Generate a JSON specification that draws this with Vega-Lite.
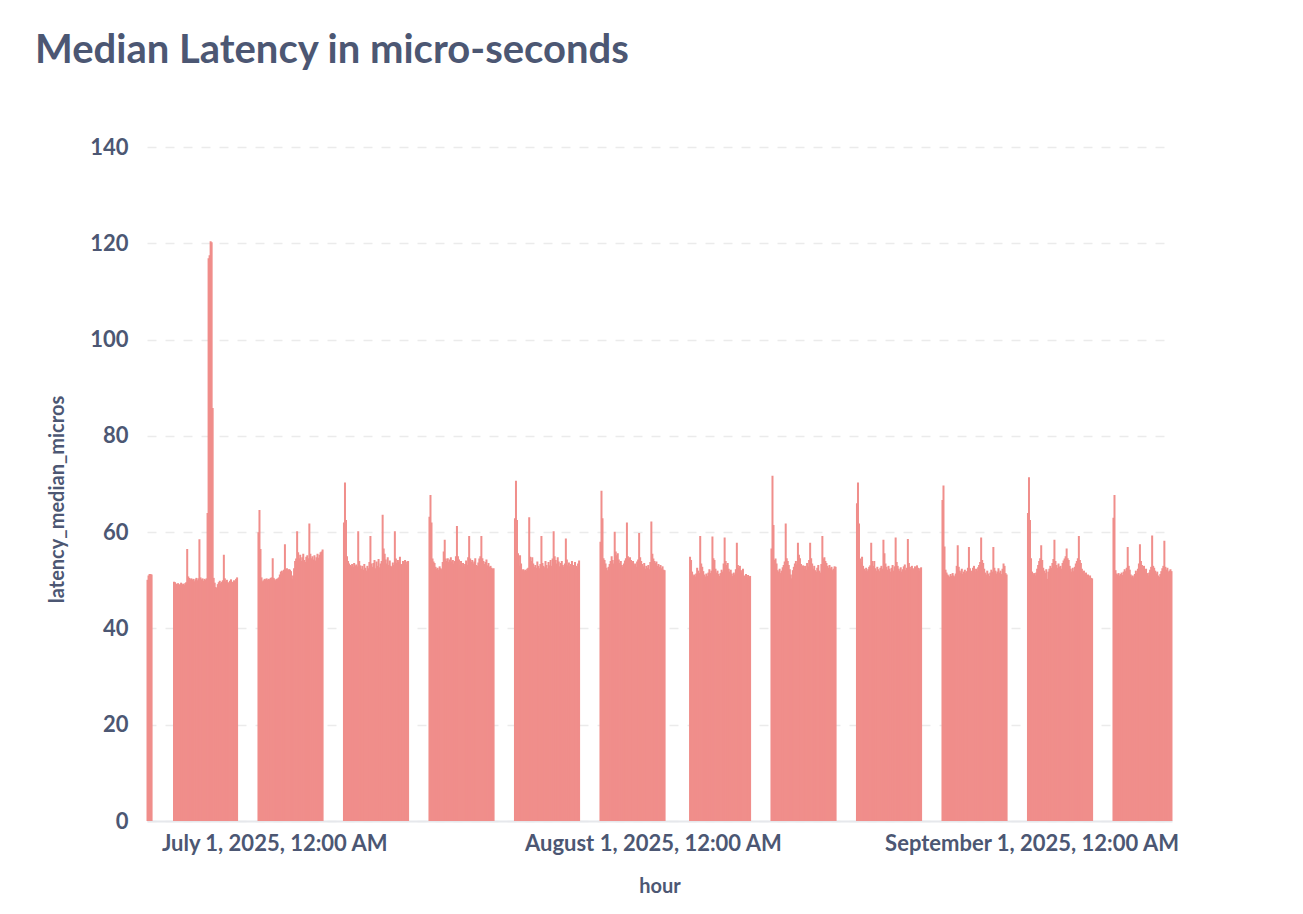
{"$schema":"https://vega.github.io/schema/vega-lite/v6.json","width":1025,"height":674,"autosize":{"type":"none"},"padding":{"left":147,"top":147,"right":131,"bottom":93},"background":"#ffffff",
"title":{"text":"Median Latency in micro-seconds","anchor":"start","frame":"group","font":"Lato","fontSize":40,"fontWeight":700,"color":"#4C5773","dx":-112,"offset":33,"baseline":"alphabetic"},
"data":{"values":[
{"t":"2025-06-20T15:00","v":50.1},{"t":"2025-06-20T17:00","v":51.0},{"t":"2025-06-20T19:00","v":51.3},{"t":"2025-06-20T21:00","v":51.3},{"t":"2025-06-20T23:00","v":51.2},
{"t":"2025-06-22T19:00","v":49.7},{"t":"2025-06-22T21:00","v":49.6},{"t":"2025-06-22T23:00","v":49.3},
{"t":"2025-06-23T01:00","v":49.1},{"t":"2025-06-23T03:00","v":49.4},{"t":"2025-06-23T05:00","v":49.0},{"t":"2025-06-23T07:00","v":49.2},{"t":"2025-06-23T09:00","v":49.5},{"t":"2025-06-23T11:00","v":49.1},{"t":"2025-06-23T13:00","v":49.3},{"t":"2025-06-23T15:00","v":49.0},{"t":"2025-06-23T17:00","v":49.4},{"t":"2025-06-23T19:00","v":49.6},{"t":"2025-06-23T21:00","v":56.5},{"t":"2025-06-23T23:00","v":50.8},
{"t":"2025-06-24T01:00","v":50.5},{"t":"2025-06-24T03:00","v":50.2},{"t":"2025-06-24T05:00","v":50.4},{"t":"2025-06-24T07:00","v":50.1},{"t":"2025-06-24T09:00","v":50.3},{"t":"2025-06-24T11:00","v":49.8},{"t":"2025-06-24T13:00","v":50.2},{"t":"2025-06-24T15:00","v":50.5},{"t":"2025-06-24T17:00","v":50.0},{"t":"2025-06-24T19:00","v":50.4},{"t":"2025-06-24T21:00","v":58.5},{"t":"2025-06-24T23:00","v":50.6},
{"t":"2025-06-25T01:00","v":50.2},{"t":"2025-06-25T03:00","v":50.4},{"t":"2025-06-25T05:00","v":49.9},{"t":"2025-06-25T07:00","v":50.3},{"t":"2025-06-25T09:00","v":50.1},{"t":"2025-06-25T11:00","v":50.4},{"t":"2025-06-25T13:00","v":64.0},{"t":"2025-06-25T15:00","v":116.9},{"t":"2025-06-25T17:00","v":117.5},{"t":"2025-06-25T19:00","v":120.4},{"t":"2025-06-25T21:00","v":120.2},{"t":"2025-06-25T23:00","v":85.8},
{"t":"2025-06-26T01:00","v":50.5},{"t":"2025-06-26T03:00","v":49.5},{"t":"2025-06-26T05:00","v":48.6},{"t":"2025-06-26T07:00","v":48.4},{"t":"2025-06-26T09:00","v":49.2},{"t":"2025-06-26T11:00","v":49.6},{"t":"2025-06-26T13:00","v":49.9},{"t":"2025-06-26T15:00","v":49.4},{"t":"2025-06-26T17:00","v":49.7},{"t":"2025-06-26T19:00","v":50.0},{"t":"2025-06-26T21:00","v":55.3},{"t":"2025-06-26T23:00","v":50.4},
{"t":"2025-06-27T01:00","v":49.8},{"t":"2025-06-27T03:00","v":50.1},{"t":"2025-06-27T05:00","v":49.6},{"t":"2025-06-27T07:00","v":49.4},{"t":"2025-06-27T09:00","v":49.9},{"t":"2025-06-27T11:00","v":50.2},{"t":"2025-06-27T13:00","v":49.7},{"t":"2025-06-27T15:00","v":49.5},{"t":"2025-06-27T17:00","v":50.0},{"t":"2025-06-27T19:00","v":49.8},{"t":"2025-06-27T21:00","v":50.3},{"t":"2025-06-27T23:00","v":50.6},
{"t":"2025-06-29T17:00","v":60.0},{"t":"2025-06-29T19:00","v":64.6},{"t":"2025-06-29T21:00","v":56.5},{"t":"2025-06-29T23:00","v":50.6},
{"t":"2025-06-30T01:00","v":49.8},{"t":"2025-06-30T03:00","v":50.0},{"t":"2025-06-30T05:00","v":50.3},{"t":"2025-06-30T07:00","v":50.2},{"t":"2025-06-30T09:00","v":50.4},{"t":"2025-06-30T11:00","v":50.1},{"t":"2025-06-30T13:00","v":50.3},{"t":"2025-06-30T15:00","v":50.2},{"t":"2025-06-30T17:00","v":50.5},{"t":"2025-06-30T19:00","v":50.6},{"t":"2025-06-30T21:00","v":54.6},{"t":"2025-06-30T23:00","v":50.5},
{"t":"2025-07-01T01:00","v":50.2},{"t":"2025-07-01T03:00","v":50.0},{"t":"2025-07-01T05:00","v":50.3},{"t":"2025-07-01T07:00","v":50.4},{"t":"2025-07-01T09:00","v":50.6},{"t":"2025-07-01T11:00","v":51.2},{"t":"2025-07-01T13:00","v":51.8},{"t":"2025-07-01T15:00","v":52.0},{"t":"2025-07-01T17:00","v":51.6},{"t":"2025-07-01T19:00","v":52.2},{"t":"2025-07-01T21:00","v":57.5},{"t":"2025-07-01T23:00","v":52.3},
{"t":"2025-07-02T01:00","v":52.5},{"t":"2025-07-02T03:00","v":52.0},{"t":"2025-07-02T05:00","v":52.3},{"t":"2025-07-02T07:00","v":52.2},{"t":"2025-07-02T09:00","v":51.9},{"t":"2025-07-02T11:00","v":50.3},{"t":"2025-07-02T13:00","v":51.0},{"t":"2025-07-02T15:00","v":52.5},{"t":"2025-07-02T17:00","v":54.0},{"t":"2025-07-02T19:00","v":54.5},{"t":"2025-07-02T21:00","v":60.2},{"t":"2025-07-02T23:00","v":55.8},
{"t":"2025-07-03T01:00","v":54.6},{"t":"2025-07-03T03:00","v":55.3},{"t":"2025-07-03T05:00","v":54.0},{"t":"2025-07-03T07:00","v":54.8},{"t":"2025-07-03T09:00","v":55.5},{"t":"2025-07-03T11:00","v":54.2},{"t":"2025-07-03T13:00","v":53.8},{"t":"2025-07-03T15:00","v":54.9},{"t":"2025-07-03T17:00","v":55.2},{"t":"2025-07-03T19:00","v":54.6},{"t":"2025-07-03T21:00","v":61.8},{"t":"2025-07-03T23:00","v":55.5},
{"t":"2025-07-04T01:00","v":54.6},{"t":"2025-07-04T03:00","v":55.0},{"t":"2025-07-04T05:00","v":54.3},{"t":"2025-07-04T07:00","v":55.2},{"t":"2025-07-04T09:00","v":54.1},{"t":"2025-07-04T11:00","v":54.8},{"t":"2025-07-04T13:00","v":55.5},{"t":"2025-07-04T15:00","v":54.7},{"t":"2025-07-04T17:00","v":55.3},{"t":"2025-07-04T19:00","v":55.8},{"t":"2025-07-04T21:00","v":56.0},{"t":"2025-07-04T23:00","v":56.4},
{"t":"2025-07-06T17:00","v":62.0},{"t":"2025-07-06T19:00","v":70.3},{"t":"2025-07-06T21:00","v":62.5},{"t":"2025-07-06T23:00","v":55.0},
{"t":"2025-07-07T01:00","v":54.0},{"t":"2025-07-07T03:00","v":53.5},{"t":"2025-07-07T05:00","v":53.2},{"t":"2025-07-07T07:00","v":52.9},{"t":"2025-07-07T09:00","v":53.4},{"t":"2025-07-07T11:00","v":52.8},{"t":"2025-07-07T13:00","v":53.6},{"t":"2025-07-07T15:00","v":53.0},{"t":"2025-07-07T17:00","v":53.3},{"t":"2025-07-07T19:00","v":52.9},{"t":"2025-07-07T21:00","v":60.2},{"t":"2025-07-07T23:00","v":54.0},
{"t":"2025-07-08T01:00","v":53.1},{"t":"2025-07-08T03:00","v":52.4},{"t":"2025-07-08T05:00","v":53.0},{"t":"2025-07-08T07:00","v":52.2},{"t":"2025-07-08T09:00","v":53.4},{"t":"2025-07-08T11:00","v":52.6},{"t":"2025-07-08T13:00","v":52.0},{"t":"2025-07-08T15:00","v":53.0},{"t":"2025-07-08T17:00","v":52.5},{"t":"2025-07-08T19:00","v":53.8},{"t":"2025-07-08T21:00","v":59.2},{"t":"2025-07-08T23:00","v":53.5},
{"t":"2025-07-09T01:00","v":52.8},{"t":"2025-07-09T03:00","v":53.6},{"t":"2025-07-09T05:00","v":54.2},{"t":"2025-07-09T07:00","v":52.5},{"t":"2025-07-09T09:00","v":53.9},{"t":"2025-07-09T11:00","v":53.0},{"t":"2025-07-09T13:00","v":54.4},{"t":"2025-07-09T15:00","v":52.7},{"t":"2025-07-09T17:00","v":53.5},{"t":"2025-07-09T19:00","v":54.0},{"t":"2025-07-09T21:00","v":63.6},{"t":"2025-07-09T23:00","v":56.6},
{"t":"2025-07-10T01:00","v":55.5},{"t":"2025-07-10T03:00","v":54.3},{"t":"2025-07-10T05:00","v":53.5},{"t":"2025-07-10T07:00","v":54.8},{"t":"2025-07-10T09:00","v":53.2},{"t":"2025-07-10T11:00","v":54.1},{"t":"2025-07-10T13:00","v":53.0},{"t":"2025-07-10T15:00","v":52.8},{"t":"2025-07-10T17:00","v":53.7},{"t":"2025-07-10T19:00","v":53.2},{"t":"2025-07-10T21:00","v":60.2},{"t":"2025-07-10T23:00","v":54.5},
{"t":"2025-07-11T01:00","v":53.6},{"t":"2025-07-11T03:00","v":54.2},{"t":"2025-07-11T05:00","v":53.8},{"t":"2025-07-11T07:00","v":54.9},{"t":"2025-07-11T09:00","v":53.4},{"t":"2025-07-11T11:00","v":53.1},{"t":"2025-07-11T13:00","v":54.0},{"t":"2025-07-11T15:00","v":53.5},{"t":"2025-07-11T17:00","v":54.2},{"t":"2025-07-11T19:00","v":53.3},{"t":"2025-07-11T21:00","v":53.9},{"t":"2025-07-11T23:00","v":54.0},
{"t":"2025-07-13T17:00","v":63.2},{"t":"2025-07-13T19:00","v":67.7},{"t":"2025-07-13T21:00","v":62.0},{"t":"2025-07-13T23:00","v":54.5},
{"t":"2025-07-14T01:00","v":53.9},{"t":"2025-07-14T03:00","v":53.6},{"t":"2025-07-14T05:00","v":52.8},{"t":"2025-07-14T07:00","v":52.4},{"t":"2025-07-14T09:00","v":52.6},{"t":"2025-07-14T11:00","v":52.2},{"t":"2025-07-14T13:00","v":52.9},{"t":"2025-07-14T15:00","v":52.5},{"t":"2025-07-14T17:00","v":52.3},{"t":"2025-07-14T19:00","v":53.8},{"t":"2025-07-14T21:00","v":56.0},{"t":"2025-07-14T23:00","v":58.4},
{"t":"2025-07-15T01:00","v":54.5},{"t":"2025-07-15T03:00","v":54.0},{"t":"2025-07-15T05:00","v":54.6},{"t":"2025-07-15T07:00","v":53.8},{"t":"2025-07-15T09:00","v":54.3},{"t":"2025-07-15T11:00","v":54.8},{"t":"2025-07-15T13:00","v":53.9},{"t":"2025-07-15T15:00","v":54.2},{"t":"2025-07-15T17:00","v":53.5},{"t":"2025-07-15T19:00","v":54.0},{"t":"2025-07-15T21:00","v":55.0},{"t":"2025-07-15T23:00","v":61.3},
{"t":"2025-07-16T01:00","v":55.0},{"t":"2025-07-16T03:00","v":54.3},{"t":"2025-07-16T05:00","v":53.2},{"t":"2025-07-16T07:00","v":54.0},{"t":"2025-07-16T09:00","v":52.8},{"t":"2025-07-16T11:00","v":53.6},{"t":"2025-07-16T13:00","v":52.9},{"t":"2025-07-16T15:00","v":53.4},{"t":"2025-07-16T17:00","v":54.1},{"t":"2025-07-16T19:00","v":53.2},{"t":"2025-07-16T21:00","v":54.8},{"t":"2025-07-16T23:00","v":59.2},
{"t":"2025-07-17T01:00","v":54.5},{"t":"2025-07-17T03:00","v":53.8},{"t":"2025-07-17T05:00","v":54.2},{"t":"2025-07-17T07:00","v":53.5},{"t":"2025-07-17T09:00","v":53.9},{"t":"2025-07-17T11:00","v":54.6},{"t":"2025-07-17T13:00","v":53.2},{"t":"2025-07-17T15:00","v":53.0},{"t":"2025-07-17T17:00","v":53.7},{"t":"2025-07-17T19:00","v":54.5},{"t":"2025-07-17T21:00","v":55.0},{"t":"2025-07-17T23:00","v":59.2},
{"t":"2025-07-18T01:00","v":54.6},{"t":"2025-07-18T03:00","v":54.0},{"t":"2025-07-18T05:00","v":53.4},{"t":"2025-07-18T07:00","v":53.8},{"t":"2025-07-18T09:00","v":54.3},{"t":"2025-07-18T11:00","v":53.1},{"t":"2025-07-18T13:00","v":53.6},{"t":"2025-07-18T15:00","v":52.8},{"t":"2025-07-18T17:00","v":53.0},{"t":"2025-07-18T19:00","v":52.6},{"t":"2025-07-18T21:00","v":52.4},{"t":"2025-07-18T23:00","v":52.5},
{"t":"2025-07-20T17:00","v":62.9},{"t":"2025-07-20T19:00","v":70.7},{"t":"2025-07-20T21:00","v":62.5},{"t":"2025-07-20T23:00","v":55.6},
{"t":"2025-07-21T01:00","v":53.0},{"t":"2025-07-21T03:00","v":55.2},{"t":"2025-07-21T05:00","v":53.5},{"t":"2025-07-21T07:00","v":52.1},{"t":"2025-07-21T09:00","v":52.3},{"t":"2025-07-21T11:00","v":51.9},{"t":"2025-07-21T13:00","v":52.2},{"t":"2025-07-21T15:00","v":52.0},{"t":"2025-07-21T17:00","v":52.4},{"t":"2025-07-21T19:00","v":52.6},{"t":"2025-07-21T21:00","v":63.1},{"t":"2025-07-21T23:00","v":54.9},
{"t":"2025-07-22T01:00","v":54.0},{"t":"2025-07-22T03:00","v":54.8},{"t":"2025-07-22T05:00","v":53.5},{"t":"2025-07-22T07:00","v":52.8},{"t":"2025-07-22T09:00","v":53.2},{"t":"2025-07-22T11:00","v":52.6},{"t":"2025-07-22T13:00","v":53.9},{"t":"2025-07-22T15:00","v":53.0},{"t":"2025-07-22T17:00","v":52.5},{"t":"2025-07-22T19:00","v":53.4},{"t":"2025-07-22T21:00","v":59.2},{"t":"2025-07-22T23:00","v":53.6},
{"t":"2025-07-23T01:00","v":53.0},{"t":"2025-07-23T03:00","v":52.7},{"t":"2025-07-23T05:00","v":54.0},{"t":"2025-07-23T07:00","v":53.2},{"t":"2025-07-23T09:00","v":52.5},{"t":"2025-07-23T11:00","v":53.8},{"t":"2025-07-23T13:00","v":53.1},{"t":"2025-07-23T15:00","v":54.2},{"t":"2025-07-23T17:00","v":53.0},{"t":"2025-07-23T19:00","v":54.5},{"t":"2025-07-23T21:00","v":60.2},{"t":"2025-07-23T23:00","v":55.0},
{"t":"2025-07-24T01:00","v":54.2},{"t":"2025-07-24T03:00","v":53.5},{"t":"2025-07-24T05:00","v":54.8},{"t":"2025-07-24T07:00","v":53.9},{"t":"2025-07-24T09:00","v":52.9},{"t":"2025-07-24T11:00","v":53.6},{"t":"2025-07-24T13:00","v":54.0},{"t":"2025-07-24T15:00","v":53.2},{"t":"2025-07-24T17:00","v":52.8},{"t":"2025-07-24T19:00","v":53.5},{"t":"2025-07-24T21:00","v":58.7},{"t":"2025-07-24T23:00","v":54.3},
{"t":"2025-07-25T01:00","v":53.1},{"t":"2025-07-25T03:00","v":53.7},{"t":"2025-07-25T05:00","v":52.9},{"t":"2025-07-25T07:00","v":53.4},{"t":"2025-07-25T09:00","v":54.0},{"t":"2025-07-25T11:00","v":53.2},{"t":"2025-07-25T13:00","v":52.6},{"t":"2025-07-25T15:00","v":53.8},{"t":"2025-07-25T17:00","v":53.0},{"t":"2025-07-25T19:00","v":52.7},{"t":"2025-07-25T21:00","v":53.5},{"t":"2025-07-25T23:00","v":54.1},
{"t":"2025-07-27T17:00","v":58.0},{"t":"2025-07-27T19:00","v":68.6},{"t":"2025-07-27T21:00","v":62.9},{"t":"2025-07-27T23:00","v":54.6},
{"t":"2025-07-28T01:00","v":54.2},{"t":"2025-07-28T03:00","v":53.5},{"t":"2025-07-28T05:00","v":52.6},{"t":"2025-07-28T07:00","v":52.1},{"t":"2025-07-28T09:00","v":52.8},{"t":"2025-07-28T11:00","v":53.4},{"t":"2025-07-28T13:00","v":54.0},{"t":"2025-07-28T15:00","v":55.0},{"t":"2025-07-28T17:00","v":54.2},{"t":"2025-07-28T19:00","v":53.5},{"t":"2025-07-28T21:00","v":60.1},{"t":"2025-07-28T23:00","v":56.0},
{"t":"2025-07-29T01:00","v":55.2},{"t":"2025-07-29T03:00","v":55.6},{"t":"2025-07-29T05:00","v":54.3},{"t":"2025-07-29T07:00","v":53.6},{"t":"2025-07-29T09:00","v":54.0},{"t":"2025-07-29T11:00","v":53.2},{"t":"2025-07-29T13:00","v":52.8},{"t":"2025-07-29T15:00","v":53.5},{"t":"2025-07-29T17:00","v":54.1},{"t":"2025-07-29T19:00","v":54.6},{"t":"2025-07-29T21:00","v":62.0},{"t":"2025-07-29T23:00","v":55.0},
{"t":"2025-07-30T01:00","v":54.4},{"t":"2025-07-30T03:00","v":54.8},{"t":"2025-07-30T05:00","v":54.2},{"t":"2025-07-30T07:00","v":53.6},{"t":"2025-07-30T09:00","v":54.0},{"t":"2025-07-30T11:00","v":53.1},{"t":"2025-07-30T13:00","v":53.5},{"t":"2025-07-30T15:00","v":52.8},{"t":"2025-07-30T17:00","v":53.9},{"t":"2025-07-30T19:00","v":54.3},{"t":"2025-07-30T21:00","v":59.8},{"t":"2025-07-30T23:00","v":54.8},
{"t":"2025-07-31T01:00","v":54.0},{"t":"2025-07-31T03:00","v":53.4},{"t":"2025-07-31T05:00","v":52.9},{"t":"2025-07-31T07:00","v":53.6},{"t":"2025-07-31T09:00","v":52.4},{"t":"2025-07-31T11:00","v":53.0},{"t":"2025-07-31T13:00","v":52.6},{"t":"2025-07-31T15:00","v":53.2},{"t":"2025-07-31T17:00","v":52.3},{"t":"2025-07-31T19:00","v":53.8},{"t":"2025-07-31T21:00","v":62.2},{"t":"2025-07-31T23:00","v":55.5},
{"t":"2025-08-01T01:00","v":54.5},{"t":"2025-08-01T03:00","v":54.0},{"t":"2025-08-01T05:00","v":53.6},{"t":"2025-08-01T07:00","v":53.9},{"t":"2025-08-01T09:00","v":53.0},{"t":"2025-08-01T11:00","v":53.4},{"t":"2025-08-01T13:00","v":52.8},{"t":"2025-08-01T15:00","v":53.2},{"t":"2025-08-01T17:00","v":52.5},{"t":"2025-08-01T19:00","v":52.9},{"t":"2025-08-01T21:00","v":52.2},{"t":"2025-08-01T23:00","v":52.1},
{"t":"2025-08-04T01:00","v":54.9},{"t":"2025-08-04T03:00","v":54.2},{"t":"2025-08-04T05:00","v":51.8},{"t":"2025-08-04T07:00","v":50.9},{"t":"2025-08-04T09:00","v":51.2},{"t":"2025-08-04T11:00","v":50.8},{"t":"2025-08-04T13:00","v":51.4},{"t":"2025-08-04T15:00","v":52.6},{"t":"2025-08-04T17:00","v":52.0},{"t":"2025-08-04T19:00","v":51.5},{"t":"2025-08-04T21:00","v":59.2},{"t":"2025-08-04T23:00","v":53.5},
{"t":"2025-08-05T01:00","v":52.8},{"t":"2025-08-05T03:00","v":51.9},{"t":"2025-08-05T05:00","v":51.2},{"t":"2025-08-05T07:00","v":50.8},{"t":"2025-08-05T09:00","v":51.4},{"t":"2025-08-05T11:00","v":50.9},{"t":"2025-08-05T13:00","v":51.6},{"t":"2025-08-05T15:00","v":52.3},{"t":"2025-08-05T17:00","v":51.5},{"t":"2025-08-05T19:00","v":52.0},{"t":"2025-08-05T21:00","v":59.1},{"t":"2025-08-05T23:00","v":54.6},
{"t":"2025-08-06T01:00","v":54.2},{"t":"2025-08-06T03:00","v":52.4},{"t":"2025-08-06T05:00","v":51.6},{"t":"2025-08-06T07:00","v":52.0},{"t":"2025-08-06T09:00","v":51.3},{"t":"2025-08-06T11:00","v":50.9},{"t":"2025-08-06T13:00","v":51.5},{"t":"2025-08-06T15:00","v":52.2},{"t":"2025-08-06T17:00","v":51.8},{"t":"2025-08-06T19:00","v":53.5},{"t":"2025-08-06T21:00","v":58.9},{"t":"2025-08-06T23:00","v":54.0},
{"t":"2025-08-07T01:00","v":53.2},{"t":"2025-08-07T03:00","v":53.6},{"t":"2025-08-07T05:00","v":52.4},{"t":"2025-08-07T07:00","v":51.8},{"t":"2025-08-07T09:00","v":52.2},{"t":"2025-08-07T11:00","v":51.4},{"t":"2025-08-07T13:00","v":50.9},{"t":"2025-08-07T15:00","v":51.6},{"t":"2025-08-07T17:00","v":51.2},{"t":"2025-08-07T19:00","v":52.3},{"t":"2025-08-07T21:00","v":57.8},{"t":"2025-08-07T23:00","v":53.2},
{"t":"2025-08-08T01:00","v":52.6},{"t":"2025-08-08T03:00","v":53.0},{"t":"2025-08-08T05:00","v":52.1},{"t":"2025-08-08T07:00","v":51.6},{"t":"2025-08-08T09:00","v":52.4},{"t":"2025-08-08T11:00","v":51.0},{"t":"2025-08-08T13:00","v":50.8},{"t":"2025-08-08T15:00","v":51.3},{"t":"2025-08-08T17:00","v":50.6},{"t":"2025-08-08T19:00","v":51.1},{"t":"2025-08-08T21:00","v":50.7},{"t":"2025-08-08T23:00","v":50.9},
{"t":"2025-08-10T17:00","v":56.6},{"t":"2025-08-10T19:00","v":71.7},{"t":"2025-08-10T21:00","v":61.5},{"t":"2025-08-10T23:00","v":54.2},
{"t":"2025-08-11T01:00","v":54.5},{"t":"2025-08-11T03:00","v":53.5},{"t":"2025-08-11T05:00","v":52.1},{"t":"2025-08-11T07:00","v":51.8},{"t":"2025-08-11T09:00","v":52.4},{"t":"2025-08-11T11:00","v":51.5},{"t":"2025-08-11T13:00","v":52.0},{"t":"2025-08-11T15:00","v":52.7},{"t":"2025-08-11T17:00","v":53.2},{"t":"2025-08-11T19:00","v":53.9},{"t":"2025-08-11T21:00","v":61.8},{"t":"2025-08-11T23:00","v":54.6},
{"t":"2025-08-12T01:00","v":54.0},{"t":"2025-08-12T03:00","v":53.2},{"t":"2025-08-12T05:00","v":52.3},{"t":"2025-08-12T07:00","v":51.2},{"t":"2025-08-12T09:00","v":50.4},{"t":"2025-08-12T11:00","v":52.1},{"t":"2025-08-12T13:00","v":52.8},{"t":"2025-08-12T15:00","v":53.5},{"t":"2025-08-12T17:00","v":54.0},{"t":"2025-08-12T19:00","v":53.3},{"t":"2025-08-12T21:00","v":57.8},{"t":"2025-08-12T23:00","v":55.3},
{"t":"2025-08-13T01:00","v":54.6},{"t":"2025-08-13T03:00","v":53.4},{"t":"2025-08-13T05:00","v":52.6},{"t":"2025-08-13T07:00","v":53.1},{"t":"2025-08-13T09:00","v":52.4},{"t":"2025-08-13T11:00","v":53.0},{"t":"2025-08-13T13:00","v":52.2},{"t":"2025-08-13T15:00","v":53.6},{"t":"2025-08-13T17:00","v":52.9},{"t":"2025-08-13T19:00","v":54.2},{"t":"2025-08-13T21:00","v":57.8},{"t":"2025-08-13T23:00","v":54.6},
{"t":"2025-08-14T01:00","v":53.5},{"t":"2025-08-14T03:00","v":52.4},{"t":"2025-08-14T05:00","v":53.0},{"t":"2025-08-14T07:00","v":52.1},{"t":"2025-08-14T09:00","v":51.8},{"t":"2025-08-14T11:00","v":52.6},{"t":"2025-08-14T13:00","v":53.2},{"t":"2025-08-14T15:00","v":52.0},{"t":"2025-08-14T17:00","v":51.6},{"t":"2025-08-14T19:00","v":53.4},{"t":"2025-08-14T21:00","v":59.2},{"t":"2025-08-14T23:00","v":54.5},
{"t":"2025-08-15T01:00","v":54.8},{"t":"2025-08-15T03:00","v":54.0},{"t":"2025-08-15T05:00","v":53.6},{"t":"2025-08-15T07:00","v":53.0},{"t":"2025-08-15T09:00","v":52.6},{"t":"2025-08-15T11:00","v":53.2},{"t":"2025-08-15T13:00","v":52.5},{"t":"2025-08-15T15:00","v":52.8},{"t":"2025-08-15T17:00","v":52.1},{"t":"2025-08-15T19:00","v":52.4},{"t":"2025-08-15T21:00","v":52.9},{"t":"2025-08-15T23:00","v":52.8},
{"t":"2025-08-17T17:00","v":66.0},{"t":"2025-08-17T19:00","v":70.3},{"t":"2025-08-17T21:00","v":61.8},{"t":"2025-08-17T23:00","v":54.5},
{"t":"2025-08-18T01:00","v":53.8},{"t":"2025-08-18T03:00","v":54.9},{"t":"2025-08-18T05:00","v":53.0},{"t":"2025-08-18T07:00","v":52.4},{"t":"2025-08-18T09:00","v":52.0},{"t":"2025-08-18T11:00","v":52.6},{"t":"2025-08-18T13:00","v":51.9},{"t":"2025-08-18T15:00","v":52.3},{"t":"2025-08-18T17:00","v":52.8},{"t":"2025-08-18T19:00","v":53.1},{"t":"2025-08-18T21:00","v":57.8},{"t":"2025-08-18T23:00","v":54.0},
{"t":"2025-08-19T01:00","v":53.0},{"t":"2025-08-19T03:00","v":54.0},{"t":"2025-08-19T05:00","v":52.5},{"t":"2025-08-19T07:00","v":52.0},{"t":"2025-08-19T09:00","v":52.8},{"t":"2025-08-19T11:00","v":52.3},{"t":"2025-08-19T13:00","v":51.9},{"t":"2025-08-19T15:00","v":52.6},{"t":"2025-08-19T17:00","v":53.0},{"t":"2025-08-19T19:00","v":52.4},{"t":"2025-08-19T21:00","v":58.4},{"t":"2025-08-19T23:00","v":55.6},
{"t":"2025-08-20T01:00","v":53.5},{"t":"2025-08-20T03:00","v":52.8},{"t":"2025-08-20T05:00","v":52.2},{"t":"2025-08-20T07:00","v":53.0},{"t":"2025-08-20T09:00","v":52.4},{"t":"2025-08-20T11:00","v":51.8},{"t":"2025-08-20T13:00","v":52.6},{"t":"2025-08-20T15:00","v":53.2},{"t":"2025-08-20T17:00","v":52.0},{"t":"2025-08-20T19:00","v":52.9},{"t":"2025-08-20T21:00","v":58.9},{"t":"2025-08-20T23:00","v":53.8},
{"t":"2025-08-21T01:00","v":53.0},{"t":"2025-08-21T03:00","v":52.4},{"t":"2025-08-21T05:00","v":52.0},{"t":"2025-08-21T07:00","v":52.7},{"t":"2025-08-21T09:00","v":51.8},{"t":"2025-08-21T11:00","v":52.3},{"t":"2025-08-21T13:00","v":52.9},{"t":"2025-08-21T15:00","v":53.3},{"t":"2025-08-21T17:00","v":52.1},{"t":"2025-08-21T19:00","v":52.6},{"t":"2025-08-21T21:00","v":58.6},{"t":"2025-08-21T23:00","v":53.6},
{"t":"2025-08-22T01:00","v":52.8},{"t":"2025-08-22T03:00","v":52.3},{"t":"2025-08-22T05:00","v":53.0},{"t":"2025-08-22T07:00","v":52.5},{"t":"2025-08-22T09:00","v":52.2},{"t":"2025-08-22T11:00","v":52.9},{"t":"2025-08-22T13:00","v":52.4},{"t":"2025-08-22T15:00","v":53.1},{"t":"2025-08-22T17:00","v":52.6},{"t":"2025-08-22T19:00","v":52.0},{"t":"2025-08-22T21:00","v":52.5},{"t":"2025-08-22T23:00","v":52.7},
{"t":"2025-08-24T17:00","v":66.7},{"t":"2025-08-24T19:00","v":69.7},{"t":"2025-08-24T21:00","v":57.0},{"t":"2025-08-24T23:00","v":52.2},
{"t":"2025-08-25T01:00","v":51.6},{"t":"2025-08-25T03:00","v":51.2},{"t":"2025-08-25T05:00","v":51.0},{"t":"2025-08-25T07:00","v":50.7},{"t":"2025-08-25T09:00","v":51.3},{"t":"2025-08-25T11:00","v":50.9},{"t":"2025-08-25T13:00","v":51.5},{"t":"2025-08-25T15:00","v":51.0},{"t":"2025-08-25T17:00","v":50.8},{"t":"2025-08-25T19:00","v":51.4},{"t":"2025-08-25T21:00","v":53.0},{"t":"2025-08-25T23:00","v":57.3},
{"t":"2025-08-26T01:00","v":52.8},{"t":"2025-08-26T03:00","v":52.0},{"t":"2025-08-26T05:00","v":51.6},{"t":"2025-08-26T07:00","v":52.4},{"t":"2025-08-26T09:00","v":51.3},{"t":"2025-08-26T11:00","v":51.8},{"t":"2025-08-26T13:00","v":52.2},{"t":"2025-08-26T15:00","v":51.5},{"t":"2025-08-26T17:00","v":51.9},{"t":"2025-08-26T19:00","v":52.6},{"t":"2025-08-26T21:00","v":56.9},{"t":"2025-08-26T23:00","v":52.5},
{"t":"2025-08-27T01:00","v":52.0},{"t":"2025-08-27T03:00","v":51.4},{"t":"2025-08-27T05:00","v":52.6},{"t":"2025-08-27T07:00","v":53.0},{"t":"2025-08-27T09:00","v":51.8},{"t":"2025-08-27T11:00","v":52.4},{"t":"2025-08-27T13:00","v":52.0},{"t":"2025-08-27T15:00","v":52.7},{"t":"2025-08-27T17:00","v":53.2},{"t":"2025-08-27T19:00","v":53.8},{"t":"2025-08-27T21:00","v":58.9},{"t":"2025-08-27T23:00","v":54.2},
{"t":"2025-08-28T01:00","v":53.6},{"t":"2025-08-28T03:00","v":52.4},{"t":"2025-08-28T05:00","v":51.6},{"t":"2025-08-28T07:00","v":51.2},{"t":"2025-08-28T09:00","v":52.0},{"t":"2025-08-28T11:00","v":51.4},{"t":"2025-08-28T13:00","v":50.9},{"t":"2025-08-28T15:00","v":51.6},{"t":"2025-08-28T17:00","v":52.2},{"t":"2025-08-28T19:00","v":51.8},{"t":"2025-08-28T21:00","v":56.9},{"t":"2025-08-28T23:00","v":52.6},
{"t":"2025-08-29T01:00","v":52.0},{"t":"2025-08-29T03:00","v":51.4},{"t":"2025-08-29T05:00","v":51.8},{"t":"2025-08-29T07:00","v":52.5},{"t":"2025-08-29T09:00","v":51.6},{"t":"2025-08-29T11:00","v":52.0},{"t":"2025-08-29T13:00","v":51.3},{"t":"2025-08-29T15:00","v":52.4},{"t":"2025-08-29T17:00","v":53.5},{"t":"2025-08-29T19:00","v":53.0},{"t":"2025-08-29T21:00","v":51.5},{"t":"2025-08-29T23:00","v":51.2},
{"t":"2025-08-31T17:00","v":64.0},{"t":"2025-08-31T19:00","v":71.4},{"t":"2025-08-31T21:00","v":62.5},{"t":"2025-08-31T23:00","v":54.6},
{"t":"2025-09-01T01:00","v":51.8},{"t":"2025-09-01T03:00","v":51.2},{"t":"2025-09-01T05:00","v":51.5},{"t":"2025-09-01T07:00","v":51.0},{"t":"2025-09-01T09:00","v":51.6},{"t":"2025-09-01T11:00","v":52.4},{"t":"2025-09-01T13:00","v":53.2},{"t":"2025-09-01T15:00","v":54.0},{"t":"2025-09-01T17:00","v":54.6},{"t":"2025-09-01T19:00","v":57.3},{"t":"2025-09-01T21:00","v":54.2},{"t":"2025-09-01T23:00","v":52.6},
{"t":"2025-09-02T01:00","v":52.0},{"t":"2025-09-02T03:00","v":51.5},{"t":"2025-09-02T05:00","v":52.3},{"t":"2025-09-02T07:00","v":50.3},{"t":"2025-09-02T09:00","v":51.8},{"t":"2025-09-02T11:00","v":52.4},{"t":"2025-09-02T13:00","v":53.0},{"t":"2025-09-02T15:00","v":52.6},{"t":"2025-09-02T17:00","v":53.6},{"t":"2025-09-02T19:00","v":54.4},{"t":"2025-09-02T21:00","v":58.4},{"t":"2025-09-02T23:00","v":54.0},
{"t":"2025-09-03T01:00","v":53.2},{"t":"2025-09-03T03:00","v":52.6},{"t":"2025-09-03T05:00","v":53.5},{"t":"2025-09-03T07:00","v":52.8},{"t":"2025-09-03T09:00","v":53.0},{"t":"2025-09-03T11:00","v":52.4},{"t":"2025-09-03T13:00","v":53.6},{"t":"2025-09-03T15:00","v":54.1},{"t":"2025-09-03T17:00","v":54.5},{"t":"2025-09-03T19:00","v":55.0},{"t":"2025-09-03T21:00","v":56.6},{"t":"2025-09-03T23:00","v":54.6},
{"t":"2025-09-04T01:00","v":54.2},{"t":"2025-09-04T03:00","v":53.0},{"t":"2025-09-04T05:00","v":52.4},{"t":"2025-09-04T07:00","v":51.8},{"t":"2025-09-04T09:00","v":52.6},{"t":"2025-09-04T11:00","v":51.9},{"t":"2025-09-04T13:00","v":52.8},{"t":"2025-09-04T15:00","v":53.5},{"t":"2025-09-04T17:00","v":54.0},{"t":"2025-09-04T19:00","v":54.6},{"t":"2025-09-04T21:00","v":59.2},{"t":"2025-09-04T23:00","v":54.2},
{"t":"2025-09-05T01:00","v":53.6},{"t":"2025-09-05T03:00","v":52.4},{"t":"2025-09-05T05:00","v":51.8},{"t":"2025-09-05T07:00","v":52.0},{"t":"2025-09-05T09:00","v":51.3},{"t":"2025-09-05T11:00","v":51.6},{"t":"2025-09-05T13:00","v":50.9},{"t":"2025-09-05T15:00","v":51.2},{"t":"2025-09-05T17:00","v":50.6},{"t":"2025-09-05T19:00","v":51.0},{"t":"2025-09-05T21:00","v":50.5},{"t":"2025-09-05T23:00","v":50.4},
{"t":"2025-09-07T17:00","v":63.0},{"t":"2025-09-07T19:00","v":67.7},{"t":"2025-09-07T21:00","v":52.1},{"t":"2025-09-07T23:00","v":51.4},
{"t":"2025-09-08T01:00","v":51.2},{"t":"2025-09-08T03:00","v":51.5},{"t":"2025-09-08T05:00","v":51.0},{"t":"2025-09-08T07:00","v":51.3},{"t":"2025-09-08T09:00","v":51.6},{"t":"2025-09-08T11:00","v":51.1},{"t":"2025-09-08T13:00","v":51.8},{"t":"2025-09-08T15:00","v":52.3},{"t":"2025-09-08T17:00","v":51.9},{"t":"2025-09-08T19:00","v":52.6},{"t":"2025-09-08T21:00","v":56.9},{"t":"2025-09-08T23:00","v":53.0},
{"t":"2025-09-09T01:00","v":52.2},{"t":"2025-09-09T03:00","v":51.2},{"t":"2025-09-09T05:00","v":50.8},{"t":"2025-09-09T07:00","v":51.0},{"t":"2025-09-09T09:00","v":50.6},{"t":"2025-09-09T11:00","v":51.3},{"t":"2025-09-09T13:00","v":52.0},{"t":"2025-09-09T15:00","v":51.5},{"t":"2025-09-09T17:00","v":52.4},{"t":"2025-09-09T19:00","v":53.5},{"t":"2025-09-09T21:00","v":57.5},{"t":"2025-09-09T23:00","v":54.0},
{"t":"2025-09-10T01:00","v":53.2},{"t":"2025-09-10T03:00","v":52.5},{"t":"2025-09-10T05:00","v":53.0},{"t":"2025-09-10T07:00","v":51.8},{"t":"2025-09-10T09:00","v":52.4},{"t":"2025-09-10T11:00","v":51.5},{"t":"2025-09-10T13:00","v":51.0},{"t":"2025-09-10T15:00","v":51.6},{"t":"2025-09-10T17:00","v":52.2},{"t":"2025-09-10T19:00","v":52.8},{"t":"2025-09-10T21:00","v":59.3},{"t":"2025-09-10T23:00","v":53.0},
{"t":"2025-09-11T01:00","v":52.6},{"t":"2025-09-11T03:00","v":52.0},{"t":"2025-09-11T05:00","v":51.4},{"t":"2025-09-11T07:00","v":51.8},{"t":"2025-09-11T09:00","v":51.0},{"t":"2025-09-11T11:00","v":50.7},{"t":"2025-09-11T13:00","v":51.3},{"t":"2025-09-11T15:00","v":51.9},{"t":"2025-09-11T17:00","v":52.5},{"t":"2025-09-11T19:00","v":53.0},{"t":"2025-09-11T21:00","v":58.2},{"t":"2025-09-11T23:00","v":52.8},
{"t":"2025-09-12T01:00","v":52.2},{"t":"2025-09-12T03:00","v":52.6},{"t":"2025-09-12T05:00","v":51.8},{"t":"2025-09-12T07:00","v":52.0},{"t":"2025-09-12T09:00","v":52.3},{"t":"2025-09-12T11:00","v":51.9}
]},
"mark":{"type":"bar","color":"#F08E8B","width":2},
"encoding":{
"x":{"field":"t","type":"temporal","title":"hour","scale":{"domain":[{"year":2025,"month":"jun","date":20,"hours":14},{"year":2025,"month":"sep","date":12,"hours":12}],"padding":0},"axis":{"format":"%B %-d, %Y, %I:%M %p","tickCount":{"interval":"month","step":1},"ticks":false,"grid":false,"labelFlush":false,"labelLimit":500,"domainColor":"#E6E8EC","domainWidth":2,"labelPadding":12,"titlePadding":22}},
"y":{"field":"v","type":"quantitative","title":"latency_median_micros","scale":{"domain":[0,140],"nice":false},"axis":{"values":[0,20,40,60,80,100,120,140],"ticks":false,"domain":false,"gridDash":[9,9],"gridColor":"#EBEBEB","gridWidth":1.5,"labelPadding":19,"titlePadding":22,"titleY":352}}
},
"config":{"view":{"stroke":null},"axis":{"labelFont":"Lato","labelFontSize":22,"labelFontWeight":700,"labelColor":"#4C5773","titleFont":"Lato","titleFontSize":20,"titleFontWeight":700,"titleColor":"#4C5773"}}
}
